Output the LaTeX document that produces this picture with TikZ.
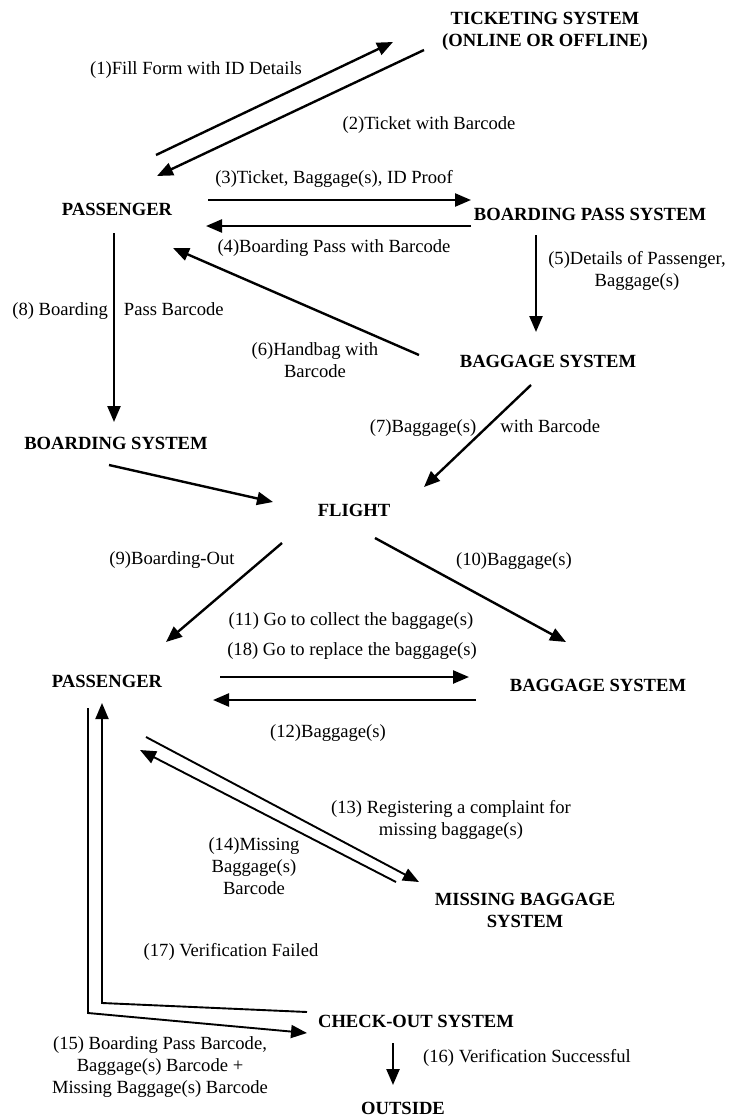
\documentclass[tikz,border=0pt]{standalone}
\usepackage{fontspec}
\setmainfont{Liberation Serif}
\usetikzlibrary{arrows.meta,calc}
\begin{document}
\begin{tikzpicture}[x=1pt,y=-1pt,
  every node/.style={font=\fontsize{18.6}{22}\selectfont, inner sep=0pt, align=center},
  sys/.style={font=\fontsize{18.6}{22}\selectfont\bfseries},
  arr/.style={line width=2.4pt, -{Triangle[length=16pt,width=13pt]}},
  tarr/.style={line width=1.9pt, -{Triangle[length=16pt,width=13pt]}}]
\useasboundingbox (0,0) rectangle (735,1116);
% system nodes
\node[sys] (tick) at (545,31) {TICKETING SYSTEM\\(ONLINE OR OFFLINE)};
\node[sys] (pass1) at (117,209) {PASSENGER};
\node[sys] (bps) at (590,214) {BOARDING PASS SYSTEM};
\node[sys] (bag1) at (548,361) {BAGGAGE SYSTEM};
\node[sys] (bsys) at (116,443) {BOARDING SYSTEM};
\node[sys] (flight) at (354,510) {FLIGHT};
\node[sys] (pass2) at (107,681) {PASSENGER};
\node[sys] (bag2) at (598,685) {BAGGAGE SYSTEM};
\node[sys] (miss) at (525,910) {MISSING BAGGAGE\\SYSTEM};
\node[sys] (chk) at (416,1021) {CHECK-OUT SYSTEM};
\node[sys] (out) at (403,1108) {OUTSIDE};
% labels
\node (l1) at (196,70) {(1)Fill Form with ID Details};
\node (l2) at (429,125) {(2)Ticket with Barcode};
\node (l3) at (334,179) {(3)Ticket, Baggage(s), ID Proof};
\node (l4) at (334,248) {(4)Boarding Pass with Barcode};
\node (l5) at (637,271) {(5)Details of Passenger,\\Baggage(s)};
\node (l6) at (315,360) {(6)Handbag with\\Barcode};
\node (l8) at (118,311) {(8) Boarding\hspace{16pt}Pass Barcode};
\node (l7) at (485,428) {(7)Baggage(s)\hspace{24pt}with Barcode};
\node (l9) at (172,560) {(9)Boarding-Out};
\node (l10) at (514,561) {(10)Baggage(s)};
\node (l11) at (351,621) {(11) Go to collect the baggage(s)};
\node (l18) at (352,651) {(18) Go to replace the baggage(s)};
\node (l12) at (328,733) {(12)Baggage(s)};
\node (l13) at (451,820) {(13) Registering a complaint for\\missing baggage(s)};
\node (l14) at (254,866) {(14)Missing\\Baggage(s)\\Barcode};
\node (l17) at (231,952) {(17) Verification Failed};
\node (l15) at (160,1067) {(15) Boarding Pass Barcode,\\Baggage(s) Barcode +\\Missing Baggage(s) Barcode};
\node (l16) at (527,1058) {(16) Verification Successful};
% connectors
\draw[arr] ($(pass1)+(39,-54)$) -- ($(tick)+(-152,11)$);
\draw[arr] ($(tick)+(-121,19)$) -- ($(pass1)+(40,-33)$);
\draw[arr] ($(pass1)+(91,-9)$) -- ($(bps)+(-119,-14)$);
\draw[arr] ($(bps)+(-119,12)$) -- ($(pass1)+(89,17)$);
\draw[arr] ($(bps)+(-54,21)$) -- ($(bag1)+(-12,-29)$);
\draw[arr] ($(bag1)+(-129,-6)$) -- ($(pass1)+(56,39)$);
\draw[arr] ($(pass1)+(-3,24)$) -- ($(bsys)+(-2,-21)$);
\draw[arr] ($(bag1)+(-17,24)$) -- ($(flight)+(70,-23)$);
\draw[arr] ($(bsys)+(-7,22)$) -- ($(flight)+(-81,-8)$);
\draw[arr] ($(flight)+(-72,33)$) -- ($(pass2)+(59,-39)$);
\draw[arr] ($(flight)+(21,28)$) -- ($(bag2)+(-32,-43)$);
\draw[arr] ($(pass2)+(113,-4)$) -- ($(bag2)+(-129,-8)$);
\draw[arr] ($(bag2)+(-122,15)$) -- ($(pass2)+(106,19)$);
\draw[tarr] ($(pass2)+(39,56)$) -- ($(miss)+(-106,-28)$);
\draw[tarr] ($(miss)+(-129,-28)$) -- ($(pass2)+(33,69)$);
\draw[tarr] ($(pass2)+(-19,27)$) -- ($(pass2)+(-19,332)$) -- ($(chk)+(-109,12)$);
\draw[tarr] ($(chk)+(-109,-9)$) -- ($(pass2)+(-5,322)$) -- ($(pass2)+(-5,22)$);
\draw[arr] ($(chk)+(-23,22)$) -- ($(out)+(-10,-23)$);
\end{tikzpicture}
\end{document}
